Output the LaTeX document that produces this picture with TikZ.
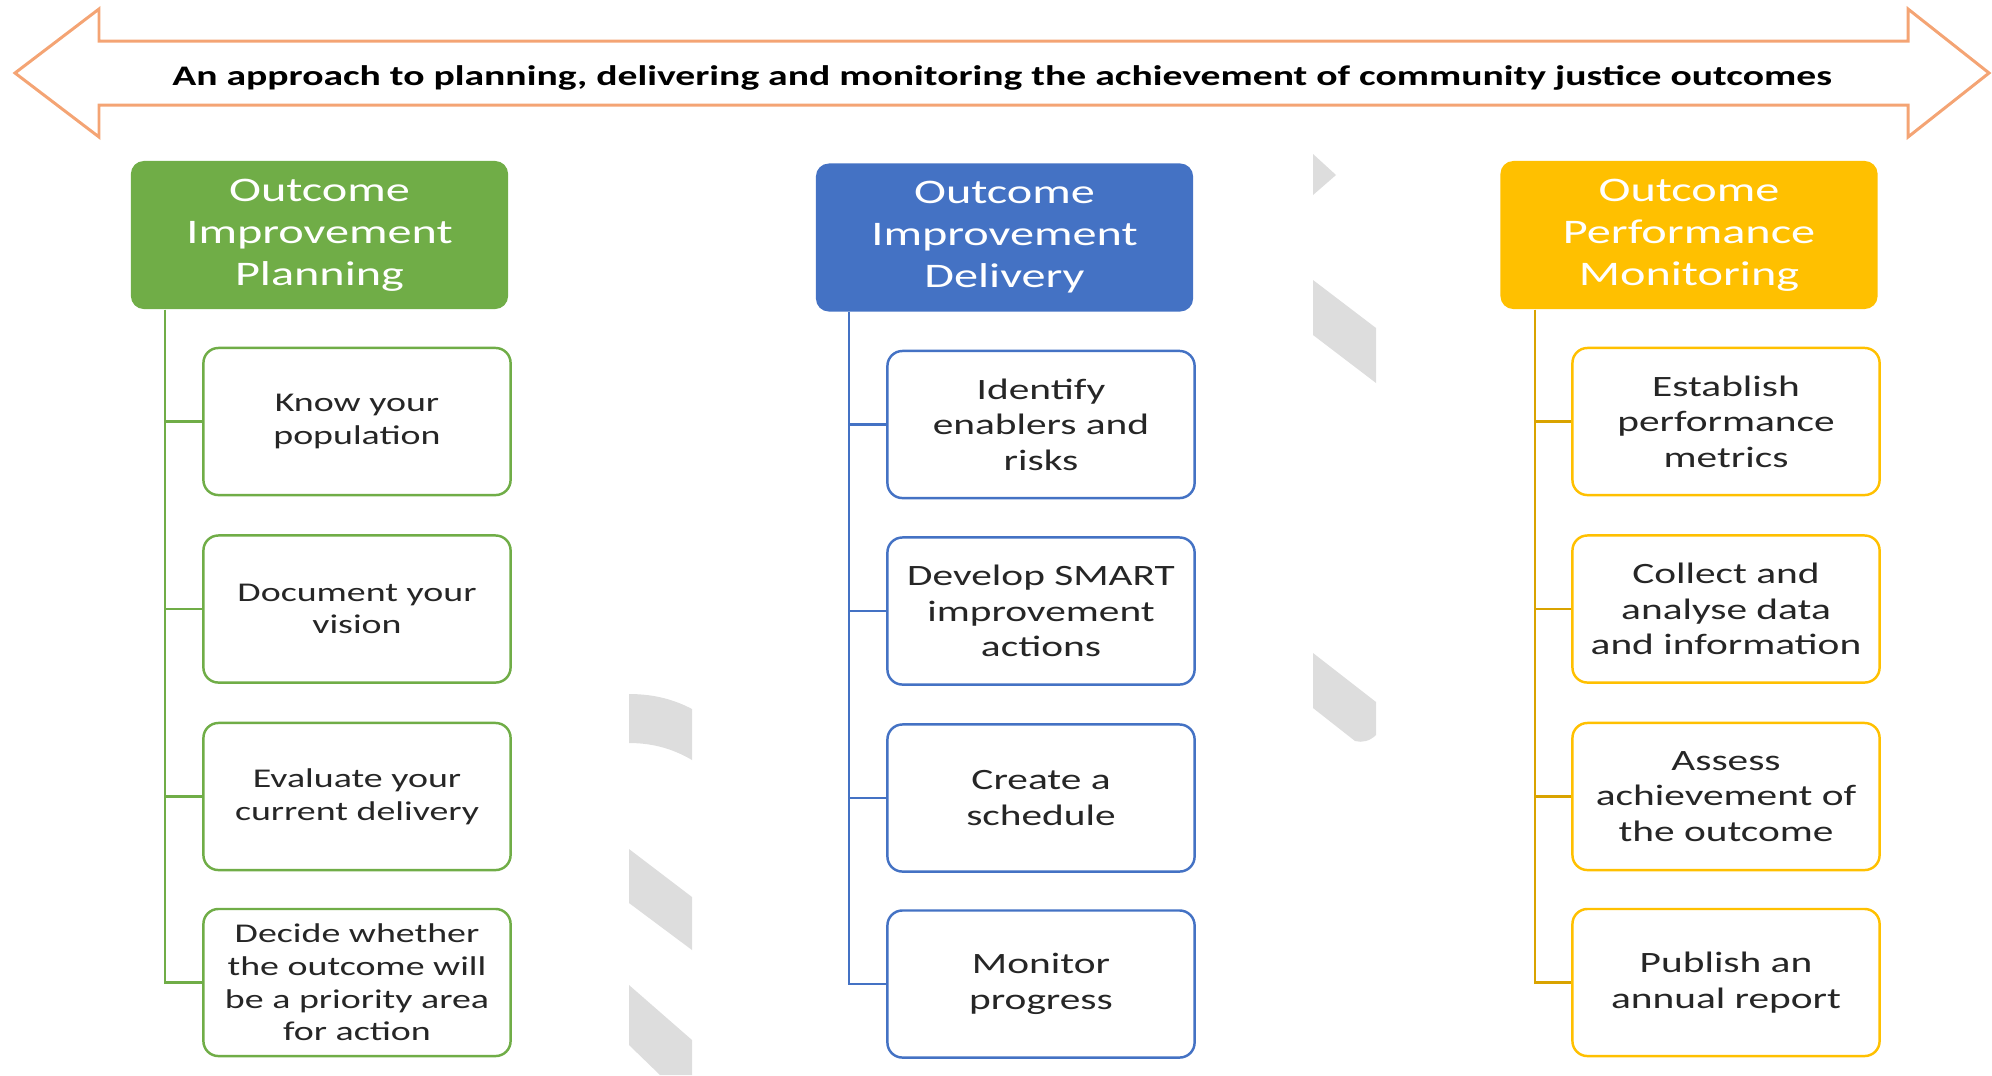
\documentclass[tikz,border=0pt]{standalone}
\usepackage{fontspec}
\setmainfont{Carlito}
\newfontfamily\widefont[FakeStretch=1.4]{Carlito}
\definecolor{planGreen}{RGB}{112,173,71}
\definecolor{deliverBlue}{RGB}{68,114,196}
\definecolor{monitorGold}{RGB}{255,192,0}
\definecolor{arrowOrange}{RGB}{244,164,116}
\definecolor{shadeGrey}{RGB}{221,221,221}
\definecolor{stepText}{RGB}{38,38,38}

\begin{document}
\begin{tikzpicture}[x=0.01cm,y=-0.01cm]
	\tikzstyle{headbox}=[rectangle,rounded corners=0.13cm,minimum width=3.77cm,minimum height=1.48cm,inner sep=0pt,align=center,text=white,font=\widefont\fontsize{9.8}{11.95}\selectfont]
	\tikzstyle{stepbox}=[rectangle,draw,line width=0.7pt,rounded corners=0.15cm,fill=white,minimum width=3.07cm,minimum height=1.47cm,inner sep=0pt,align=center,text=stepText,font=\widefont\fontsize{8.4}{10.1}\selectfont]
	\tikzstyle{planstep}=[stepbox,draw=planGreen,font=\widefont\fontsize{7.7}{9.3}\selectfont]
	\tikzstyle{deliverstep}=[stepbox,draw=deliverBlue]
	\tikzstyle{monitorstep}=[stepbox,draw=monitorGold]
	\tikzstyle{branch}=[line width=0.6pt]
	\tikzstyle{shade}=[fill=shadeGrey]

	\useasboundingbox (0,0) rectangle (1992,1075);

	% grey background pieces
	\fill[shade] (629,694) .. controls (655,694) and (675,700) .. (692,709) -- (692,760) .. controls (675,750) and (655,743) .. (629,743) -- cycle;
	\fill[shade] (629,849) -- (692,897) -- (692,950) -- (629,903) -- cycle;
	\fill[shade] (629,985) -- (692,1040) -- (692,1075) -- (660,1075) -- (629,1045) -- cycle;
	\fill[shade] (1313,154) -- (1336,175) -- (1313,195) -- cycle;
	\fill[shade] (1313,280) -- (1376,328) -- (1376,383) -- (1313,335) -- cycle;
	\fill[shade] (1313,653) -- (1376,702) -- (1376,735) .. controls (1370,741) and (1362,743) .. (1355,741) -- (1313,708) -- cycle;

	% top double arrow
	\draw[arrowOrange,line width=0.85pt] (15,73) -- (99,9) -- (99,41) -- (1908,41) -- (1908,9) -- (1989,73) -- (1908,137) -- (1908,105) -- (99,105) -- (99,137) -- cycle;
	\node[inner sep=0pt] (title) at (1002,78) {\widefont\fontsize{8.05}{9.6}\selectfont\bfseries An approach to planning, delivering and monitoring the achievement of community justice outcomes};

	% headers
	\node[headbox,fill=planGreen] (hdPlan) at (319.5,235) {Outcome\\Improvement\\Planning};
	\node[headbox,fill=deliverBlue] (hdDeliver) at (1004.5,237.5) {Outcome\\Improvement\\Delivery};
	\node[headbox,fill=monitorGold] (hdMonitor) at (1689,235) {Outcome\\Performance\\Monitoring};

	% planning steps
	\node[planstep] (plan1) at (357,421.5) {Know your\\population};
	\node[planstep] (plan2) at (357,609) {Document your\\vision};
	\node[planstep] (plan3) at (357,796.5) {Evaluate your\\current delivery};
	\node[planstep] (plan4) at (357,982.5) {Decide whether\\the outcome will\\be a priority area\\for action};

	% delivery steps
	\node[deliverstep] (deliver1) at (1041,424.5) {Identify\\enablers and\\risks};
	\node[deliverstep] (deliver2) at (1041,611) {Develop SMART\\improvement\\actions};
	\node[deliverstep] (deliver3) at (1041,798) {Create a\\schedule};
	\node[deliverstep] (deliver4) at (1041,984) {Monitor\\progress};

	% monitoring steps
	\node[monitorstep] (monitor1) at (1726,421.5) {Establish\\performance\\metrics};
	\node[monitorstep] (monitor2) at (1726,609) {Collect and\\analyse data\\and information};
	\node[monitorstep] (monitor3) at (1726,796.5) {Assess\\achievement of\\the outcome};
	\node[monitorstep] (monitor4) at (1726,982.5) {Publish an\\annual report};

	% connectors
	\draw[branch,planGreen] ([xshift=0.35cm]hdPlan.south west) |- (plan1.west);
	\draw[branch,planGreen] ([xshift=0.35cm]hdPlan.south west) |- (plan2.west);
	\draw[branch,planGreen] ([xshift=0.35cm]hdPlan.south west) |- (plan3.west);
	\draw[branch,planGreen] ([xshift=0.35cm]hdPlan.south west) |- (plan4.west);
	\draw[branch,deliverBlue] ([xshift=0.34cm]hdDeliver.south west) |- (deliver1.west);
	\draw[branch,deliverBlue] ([xshift=0.34cm]hdDeliver.south west) |- (deliver2.west);
	\draw[branch,deliverBlue] ([xshift=0.34cm]hdDeliver.south west) |- (deliver3.west);
	\draw[branch,deliverBlue] ([xshift=0.34cm]hdDeliver.south west) |- (deliver4.west);
	\draw[branch,monitorGold!85!black] ([xshift=0.35cm]hdMonitor.south west) |- (monitor1.west);
	\draw[branch,monitorGold!85!black] ([xshift=0.35cm]hdMonitor.south west) |- (monitor2.west);
	\draw[branch,monitorGold!85!black] ([xshift=0.35cm]hdMonitor.south west) |- (monitor3.west);
	\draw[branch,monitorGold!85!black] ([xshift=0.35cm]hdMonitor.south west) |- (monitor4.west);
\end{tikzpicture}
\end{document}
